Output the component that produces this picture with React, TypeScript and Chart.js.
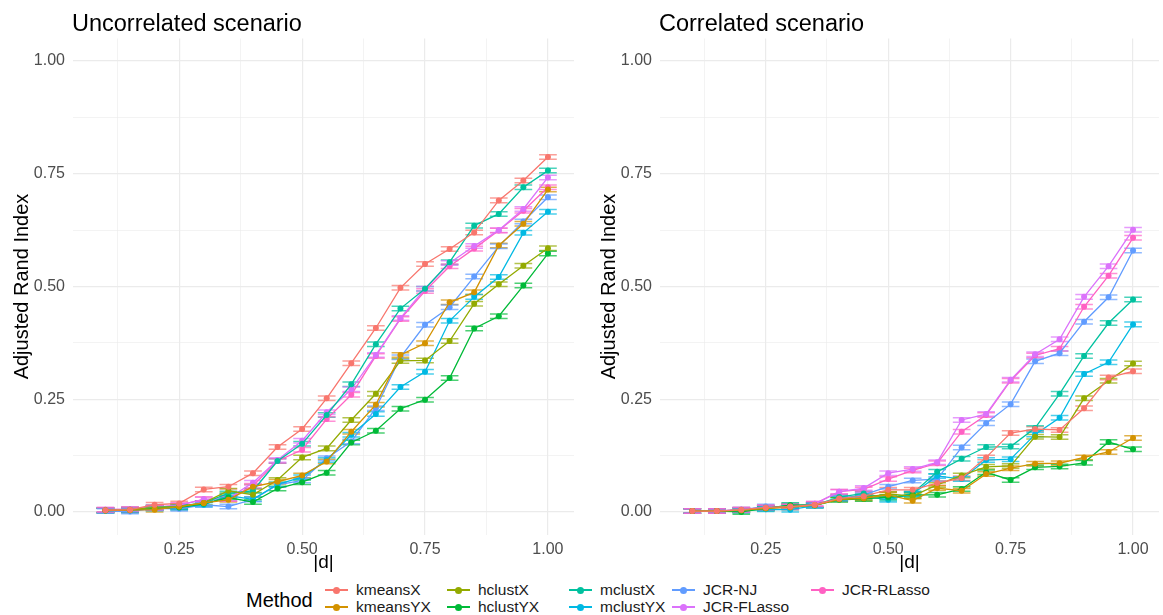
import React, { useEffect, useRef } from "react";
import { Chart, registerables } from "chart.js";

Chart.register(...registerables);

const FONT = '"Liberation Sans", Arial, Helvetica, sans-serif';

// Separation |d| evaluated in both scenarios
const dValues = [0.1, 0.15, 0.2, 0.25, 0.3, 0.35, 0.4, 0.45, 0.5, 0.55, 0.6, 0.65, 0.7, 0.75, 0.8, 0.85, 0.9, 0.95, 1.0];

const methods = ["kmeansX", "kmeansYX", "hclustX", "hclustYX", "mclustX", "mclustYX", "JCR-NJ", "JCR-FLasso", "JCR-RLasso"];
const methodColors = ["#F8766D", "#D39200", "#93AA00", "#00BA38", "#00C19F", "#00B9E3", "#619CFF", "#DB72FB", "#FF61C3"];

// Mean adjusted Rand index, uncorrelated scenario
const uncKmeansX = [0.004, 0.005, 0.016, 0.019, 0.050, 0.056, 0.086, 0.144, 0.184, 0.252, 0.330, 0.408, 0.497, 0.550, 0.583, 0.620, 0.691, 0.735, 0.787];
const uncKmeansYX = [0.003, 0.004, 0.005, 0.012, 0.020, 0.027, 0.056, 0.067, 0.081, 0.112, 0.178, 0.238, 0.348, 0.374, 0.465, 0.487, 0.591, 0.639, 0.715];
const uncHclustX = [0.004, 0.005, 0.010, 0.012, 0.020, 0.047, 0.038, 0.071, 0.121, 0.141, 0.204, 0.262, 0.335, 0.336, 0.379, 0.462, 0.505, 0.546, 0.585];
const uncHclustYX = [0.003, 0.004, 0.008, 0.010, 0.018, 0.032, 0.022, 0.052, 0.066, 0.087, 0.154, 0.180, 0.229, 0.249, 0.297, 0.407, 0.434, 0.502, 0.573];
const uncMclustX = [0.004, 0.005, 0.010, 0.013, 0.020, 0.041, 0.047, 0.113, 0.151, 0.215, 0.283, 0.372, 0.451, 0.495, 0.554, 0.635, 0.661, 0.720, 0.757];
const uncMclustYX = [0.003, 0.004, 0.008, 0.010, 0.016, 0.036, 0.028, 0.061, 0.077, 0.115, 0.171, 0.217, 0.277, 0.311, 0.424, 0.477, 0.521, 0.619, 0.666];
const uncJcrNJ = [0.002, 0.001, 0.008, 0.007, 0.016, 0.012, 0.028, 0.060, 0.070, 0.119, 0.156, 0.230, 0.343, 0.415, 0.454, 0.522, 0.589, 0.644, 0.698];
const uncJcrFLasso = [0.005, 0.006, 0.010, 0.015, 0.028, 0.030, 0.065, 0.115, 0.158, 0.221, 0.272, 0.348, 0.430, 0.495, 0.552, 0.590, 0.625, 0.672, 0.742];
const uncJcrRLasso = [0.005, 0.006, 0.010, 0.015, 0.028, 0.029, 0.058, 0.113, 0.138, 0.206, 0.260, 0.346, 0.428, 0.490, 0.545, 0.584, 0.624, 0.668, 0.720];

// Mean adjusted Rand index, correlated scenario
const corKmeansX = [0.002, 0.002, 0.005, 0.010, 0.012, 0.016, 0.030, 0.035, 0.049, 0.049, 0.064, 0.075, 0.121, 0.175, 0.184, 0.182, 0.230, 0.298, 0.312];
const corKmeansYX = [0.002, 0.002, 0.004, 0.008, 0.010, 0.015, 0.028, 0.030, 0.038, 0.025, 0.053, 0.047, 0.084, 0.097, 0.107, 0.108, 0.121, 0.133, 0.164];
const corHclustX = [0.002, 0.002, 0.004, 0.008, 0.012, 0.015, 0.028, 0.032, 0.040, 0.035, 0.060, 0.081, 0.100, 0.102, 0.167, 0.166, 0.252, 0.291, 0.329];
const corHclustYX = [0.002, 0.002, 0.000, 0.008, 0.015, 0.015, 0.027, 0.029, 0.033, 0.038, 0.038, 0.051, 0.088, 0.071, 0.099, 0.101, 0.109, 0.155, 0.139];
const corMclustX = [0.002, 0.002, 0.004, 0.008, 0.015, 0.015, 0.033, 0.041, 0.030, 0.041, 0.089, 0.118, 0.144, 0.145, 0.186, 0.262, 0.346, 0.419, 0.471];
const corMclustYX = [0.002, 0.002, 0.003, 0.006, 0.005, 0.014, 0.030, 0.035, 0.027, 0.040, 0.080, 0.073, 0.115, 0.117, 0.172, 0.209, 0.306, 0.332, 0.416];
const corJcrNJ = [0.002, 0.002, 0.005, 0.012, 0.010, 0.015, 0.030, 0.038, 0.056, 0.070, 0.073, 0.143, 0.197, 0.239, 0.334, 0.352, 0.422, 0.476, 0.580];
const corJcrFLasso = [0.002, 0.002, 0.005, 0.010, 0.012, 0.018, 0.045, 0.053, 0.086, 0.095, 0.110, 0.204, 0.217, 0.293, 0.350, 0.383, 0.477, 0.545, 0.626];
const corJcrRLasso = [0.002, 0.002, 0.005, 0.010, 0.012, 0.018, 0.045, 0.050, 0.073, 0.092, 0.108, 0.178, 0.215, 0.291, 0.347, 0.362, 0.455, 0.524, 0.608];

const uncorrelatedSeries = [uncKmeansX, uncKmeansYX, uncHclustX, uncHclustYX, uncMclustX, uncMclustYX, uncJcrNJ, uncJcrFLasso, uncJcrRLasso];
const correlatedSeries = [corKmeansX, corKmeansYX, corHclustX, corHclustYX, corMclustX, corMclustYX, corJcrNJ, corJcrFLasso, corJcrRLasso];

// Standard error drawn as error-bar caps around each mean
const standardError = [0.005, 0.005, 0.005, 0.005, 0.005, 0.005, 0.005, 0.005, 0.005];

const yTickValues = [0, 0.125, 0.25, 0.375, 0.5, 0.625, 0.75, 0.875, 1.0];
const yTickLabels = ["0.00", "", "0.25", "", "0.50", "", "0.75", "", "1.00"];
const xTickValues = [0.125, 0.25, 0.375, 0.5, 0.625, 0.75, 0.875, 1.0];
const xTickLabels = ["", "0.25", "", "0.50", "", "0.75", "", "1.00"];

const CAP_HALF = 0.018;

const errorCapPlugin = {
  id: "errorCaps",
  beforeDatasetsDraw(chart: any) {
    const { ctx } = chart;
    const xs = chart.scales.x;
    const ys = chart.scales.y;
    chart.data.datasets.forEach((ds: any, di: number) => {
      const se = standardError[di];
      ctx.save();
      ctx.strokeStyle = ds.borderColor;
      ctx.globalAlpha = 0.7;
      ctx.lineWidth = 1.5;
      ds.data.forEach((pt: any) => {
        const x0 = xs.getPixelForValue(pt.x - CAP_HALF);
        const x1 = xs.getPixelForValue(pt.x + CAP_HALF);
        const xc = xs.getPixelForValue(pt.x);
        const yLo = ys.getPixelForValue(pt.y - se);
        const yHi = ys.getPixelForValue(pt.y + se);
        ctx.beginPath();
        ctx.moveTo(x0, yLo);
        ctx.lineTo(x1, yLo);
        ctx.moveTo(x0, yHi);
        ctx.lineTo(x1, yHi);
        ctx.moveTo(xc, yLo);
        ctx.lineTo(xc, yHi);
        ctx.stroke();
      });
      ctx.restore();
    });
  },
};

const panelTitlePlugin = {
  id: "panelTitle",
  afterDraw(chart: any, _args: any, opts: any) {
    const { ctx } = chart;
    ctx.save();
    ctx.font = `23.5px ${FONT}`;
    ctx.fillStyle = "#000000";
    ctx.textAlign = "left";
    ctx.textBaseline = "alphabetic";
    ctx.fillText(opts.text, opts.x, opts.y);
    ctx.restore();
  },
};

function makeConfig(title: string, series: number[][], padRight: number): any {
  const isMajor = (v: number) => Math.abs(v * 4 - Math.round(v * 4)) < 1e-6;
  return {
    type: "line",
    data: {
      datasets: series.map((vals, i) => ({
        label: methods[i],
        data: dValues.map((d, j) => ({ x: d, y: vals[j] })),
        borderColor: methodColors[i],
        backgroundColor: methodColors[i],
        borderWidth: 1.3,
        pointRadius: 3,
        pointBorderWidth: 0,
        pointBackgroundColor: methodColors[i],
        tension: 0,
      })),
    },
    options: {
      responsive: false,
      animation: false,
      events: [],
      layout: { padding: { left: 0, top: 38.5, right: padRight, bottom: 0 } },
      plugins: {
        legend: { display: false },
        tooltip: { enabled: false },
        title: { display: false },
        panelTitle: { text: title, x: 72, y: 31 },
      },
      scales: {
        x: {
          type: "linear",
          min: 0.034,
          max: 1.053,
          afterBuildTicks: (scale: any) => {
            scale.ticks = xTickValues.map((value) => ({ value }));
          },
          afterFit: (scale: any) => {
            scale.height = 40.5;
          },
          ticks: {
            autoSkip: false,
            maxRotation: 0,
            padding: 5,
            color: "#4D4D4D",
            font: { family: FONT, size: 16 },
            callback: (value: number) => {
              const idx = xTickValues.findIndex((v) => Math.abs(v - value) < 1e-9);
              return idx >= 0 ? xTickLabels[idx] : "";
            },
          },
          grid: {
            drawTicks: false,
            color: "#EBEBEB",
            lineWidth: (c: any) => (c.tick && isMajor(c.tick.value) ? 1.2 : 0.6),
          },
          border: { display: false },
          title: {
            display: true,
            text: "|d|",
            color: "#000000",
            font: { family: FONT, size: 19 },
            padding: { top: 0, bottom: 1 },
          },
        },
        y: {
          type: "linear",
          min: -0.05,
          max: 1.05,
          afterBuildTicks: (scale: any) => {
            scale.ticks = yTickValues.map((value) => ({ value }));
          },
          afterFit: (scale: any) => {
            scale.width = 73;
          },
          ticks: {
            autoSkip: false,
            padding: 8,
            color: "#4D4D4D",
            font: { family: FONT, size: 16 },
            callback: (value: number) => {
              const idx = yTickValues.findIndex((v) => Math.abs(v - value) < 1e-9);
              return idx >= 0 ? yTickLabels[idx] : "";
            },
          },
          grid: {
            drawTicks: false,
            color: "#EBEBEB",
            lineWidth: (c: any) => (c.tick && isMajor(c.tick.value) ? 1.2 : 0.6),
          },
          border: { display: false },
          title: {
            display: true,
            text: "Adjusted Rand Index",
            color: "#000000",
            font: { family: FONT, size: 20 },
            padding: { top: 10, bottom: 0 },
          },
        },
      },
    },
    plugins: [errorCapPlugin, panelTitlePlugin],
  };
}

function Panel(props: { title: string; series: number[][]; left: number; width: number; padRight: number }) {
  const ref = useRef<HTMLCanvasElement | null>(null);
  useEffect(() => {
    if (!ref.current) return;
    const chart = new Chart(ref.current, makeConfig(props.title, props.series, props.padRight));
    return () => chart.destroy();
  }, []);
  return (
    <canvas
      ref={ref}
      width={props.width}
      height={575}
      style={{ position: "absolute", left: props.left, top: 0, width: props.width, height: 575 }}
    />
  );
}

// Legend layout: two rows, five columns (filled column by column in method order)
const legendColumnsX = [325, 447, 569, 672, 811];
const legendRowsY = [590, 607];

function LegendKey(props: { color: string; x: number; y: number }) {
  return (
    <div style={{ position: "absolute", left: props.x, top: props.y - 1, width: 23, height: 2, background: props.color }}>
      <div
        style={{
          position: "absolute",
          left: 8,
          top: -2.5,
          width: 7,
          height: 7,
          borderRadius: "50%",
          background: props.color,
        }}
      />
    </div>
  );
}

export default function App() {
  return (
    <div
      style={{
        position: "fixed",
        left: 0,
        top: 0,
        width: 1163,
        height: 615,
        background: "#FFFFFF",
        overflow: "hidden",
        fontFamily: FONT,
      }}
    >
      <Panel title="Uncorrelated scenario" series={uncorrelatedSeries} left={0} width={587} padRight={13} />
      <Panel title="Correlated scenario" series={correlatedSeries} left={587} width={576} padRight={3} />
      <div style={{ position: "absolute", left: 246, top: 588, fontSize: 20, lineHeight: "24px", color: "#000" }}>Method</div>
      {methods.map((m, i) => {
        const col = Math.floor(i / 2);
        const row = i % 2;
        const x = legendColumnsX[col];
        const y = legendRowsY[row];
        return (
          <React.Fragment key={m}>
            <LegendKey color={methodColors[i]} x={x} y={y} />
            <div
              style={{
                position: "absolute",
                left: x + 31,
                top: y - 10,
                fontSize: 15.5,
                lineHeight: "20px",
                color: "#1A1A1A",
                whiteSpace: "nowrap",
              }}
            >
              {m}
            </div>
          </React.Fragment>
        );
      })}
    </div>
  );
}
